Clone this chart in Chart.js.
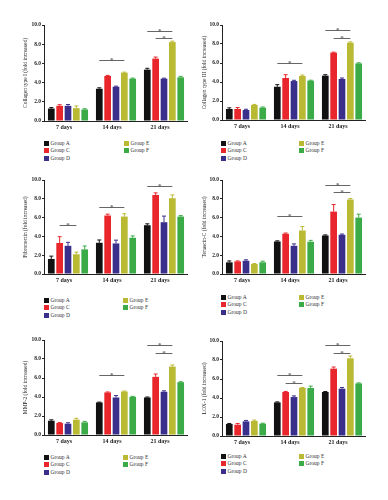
<!DOCTYPE html>
<html><head><meta charset="utf-8">
<script src="https://cdn.jsdelivr.net/npm/chart.js"></script>
<style>
body{margin:0;background:#fff;width:388px;height:500px;position:relative;overflow:hidden;font-family:"Liberation Serif",serif;}
canvas{position:absolute;}
.lg{position:absolute;font-size:5.5px;color:#333;line-height:7.6px;white-space:nowrap}
.lg i{display:inline-block;width:4.5px;height:5px;margin-right:2px;vertical-align:-1px}
</style></head><body>
<script>
const categories = ['7 days', '14 days', '21 days'];
const groups = ['Group A', 'Group C', 'Group D', 'Group E', 'Group F'];
const groupColors = ['#111111', '#e8262b', '#3b2f8c', '#b9b934', '#3bab48'];
const yTicks = [0, 2, 4, 6, 8, 10];

// means, one row per group (A, C, D, E, F), columns 7 / 14 / 21 days
const collagenI = [[1.30, 3.36, 5.35], [1.58, 4.69, 6.50], [1.58, 3.57, 4.41], [1.34, 5.03, 8.22], [1.20, 4.41, 4.55]];
const collagenIErr = [[0.10, 0.10, 0.14], [0.12, 0.06, 0.16], [0.14, 0.06, 0.05], [0.22, 0.06, 0.10], [0.08, 0.06, 0.10]];
const collagenISig = [[1, 0, 3, 6.33], [2, 0, 3, 9.40], [2, 1, 3, 8.64]];

const collagenIII = [[1.16, 3.50, 4.67], [1.16, 4.42, 7.09], [1.05, 4.10, 4.32], [1.58, 4.63, 8.14], [1.30, 4.14, 5.96]];
const collagenIIIErr = [[0.12, 0.22, 0.10], [0.15, 0.35, 0.05], [0.08, 0.08, 0.10], [0.06, 0.10, 0.08], [0.07, 0.05, 0.06]];
const collagenIIISig = [[1, 0, 3, 6.00], [2, 0, 3, 9.50], [2, 1, 3, 8.67]];

const fibronectin = [[1.60, 3.32, 5.19], [3.30, 6.22, 8.41], [3.00, 3.25, 5.51], [2.10, 6.11, 8.06], [2.62, 3.85, 6.11]];
const fibronectinErr = [[0.30, 0.30, 0.15], [0.67, 0.15, 0.22], [0.37, 0.35, 0.65], [0.22, 0.30, 0.35], [0.36, 0.20, 0.10]];
const fibronectinSig = [[0, 1, 3, 5.18], [1, 0, 3, 7.17], [2, 0, 3, 9.40]];

const tenascin = [[1.24, 3.46, 4.10], [1.34, 4.28, 6.64], [1.41, 3.00, 4.17], [1.06, 4.63, 7.92], [1.24, 3.43, 6.00]];
const tenascinErr = [[0.15, 0.07, 0.06], [0.05, 0.08, 0.75], [0.10, 0.20, 0.08], [0.05, 0.42, 0.10], [0.12, 0.15, 0.36]];
const tenascinSig = [[1, 0, 3, 6.22], [2, 0, 3, 9.47], [2, 1, 3, 8.76]];

const mmp2 = [[1.50, 3.43, 3.95], [1.26, 4.48, 6.12], [1.19, 3.95, 4.55], [1.61, 4.58, 7.20], [1.33, 4.02, 5.56]];
const mmp2Err = [[0.10, 0.03, 0.05], [0.05, 0.05, 0.30], [0.10, 0.20, 0.10], [0.15, 0.05, 0.17], [0.10, 0.05, 0.05]];
const mmp2Sig = [[1, 0, 3, 6.33], [2, 0, 3, 9.44], [2, 1, 3, 8.60]];

const lox1 = [[1.26, 3.54, 4.63], [1.19, 4.63, 7.09], [1.54, 4.10, 4.98], [1.58, 5.05, 8.18], [1.30, 5.05, 5.54]];
const lox1Err = [[0.06, 0.05, 0.05], [0.13, 0.06, 0.17], [0.10, 0.12, 0.13], [0.10, 0.06, 0.24], [0.05, 0.20, 0.05]];
const lox1Sig = [[1, 0, 3, 6.39], [1, 1, 3, 5.54], [2, 0, 3, 9.54], [2, 1, 3, 8.70]];

const panels = [
  {title: 'Collagen type I (fold increased)', means: collagenI, errs: collagenIErr, sigs: collagenISig,
   left: 21, yw: 23, w: 167, top: 25, h: 96, lgA: 44, lgE: 124, lgY: 143.3},
  {title: 'Collagen type III (fold increased)', means: collagenIII, errs: collagenIIIErr, sigs: collagenIIISig,
   left: 200, yw: 22, w: 166, top: 25, h: 95, lgA: 221, lgE: 299, lgY: 143.3},
  {title: 'Fibronectin (fold increased)', means: fibronectin, errs: fibronectinErr, sigs: fibronectinSig,
   left: 21, yw: 23, w: 167, top: 180, h: 94, lgA: 44, lgE: 123, lgY: 300.7},
  {title: 'Tenascin-C (fold increased)', means: tenascin, errs: tenascinErr, sigs: tenascinSig,
   left: 200, yw: 22, w: 166, top: 180, h: 94, lgA: 221, lgE: 299, lgY: 297.3},
  {title: 'MMP-2 (fold increased)', means: mmp2, errs: mmp2Err, sigs: mmp2Sig,
   left: 21, yw: 23, w: 167, top: 340, h: 95, lgA: 44, lgE: 123, lgY: 457.3},
  {title: 'LOX-1 (fold increased)', means: lox1, errs: lox1Err, sigs: lox1Sig,
   left: 200, yw: 22, w: 166, top: 341, h: 95, lgA: 221, lgE: 299, lgY: 456.7}
];

const PADTOP = 6, XH = 14;
const serif = '"Liberation Serif", "DejaVu Serif", serif';

// error bars + significance brackets
const extrasPlugin = {
  id: 'extras',
  afterDatasetsDraw(chart, args, opts) {
    const ctx = chart.ctx;
    const ys = chart.scales.y;
    ctx.save();
    chart.data.datasets.forEach((ds, i) => {
      const meta = chart.getDatasetMeta(i);
      meta.data.forEach((bar, j) => {
        const top = ys.getPixelForValue(ds.data[j] + opts.errs[i][j]);
        const half = bar.width * 0.3;
        ctx.strokeStyle = ds.backgroundColor;
        ctx.lineWidth = 1;
        ctx.beginPath();
        ctx.moveTo(bar.x, bar.y);
        ctx.lineTo(bar.x, top);
        ctx.moveTo(bar.x - half, top);
        ctx.lineTo(bar.x + half, top);
        ctx.stroke();
      });
    });
    opts.sigs.forEach(s => {
      const x1 = chart.getDatasetMeta(s[1]).data[s[0]].x;
      const x2 = chart.getDatasetMeta(s[2]).data[s[0]].x;
      const y = Math.round(ys.getPixelForValue(s[3])) + 0.5;
      ctx.strokeStyle = '#666';
      ctx.lineWidth = 1;
      ctx.beginPath();
      ctx.moveTo(x1, y);
      ctx.lineTo(x2, y);
      ctx.stroke();
      ctx.fillStyle = '#333';
      ctx.font = '7px ' + serif;
      ctx.textAlign = 'center';
      ctx.textBaseline = 'alphabetic';
      ctx.fillText('*', (x1 + x2) / 2, y + 1.5);
    });
    ctx.restore();
  }
};

panels.forEach(p => {
  const cv = document.createElement('canvas');
  cv.width = p.w;
  cv.height = PADTOP + p.h + XH;
  cv.style.left = p.left + 'px';
  cv.style.top = (p.top - PADTOP) + 'px';
  cv.style.width = p.w + 'px';
  cv.style.height = cv.height + 'px';
  document.body.appendChild(cv);

  new Chart(cv.getContext('2d'), {
    type: 'bar',
    data: {
      labels: categories,
      datasets: groups.map((g, i) => ({
        label: g,
        data: p.means[i],
        backgroundColor: groupColors[i],
        barPercentage: 0.8,
        categoryPercentage: 0.87
      }))
    },
    options: {
      responsive: false,
      animation: false,
      devicePixelRatio: 1,
      layout: {padding: {top: PADTOP, right: 0, bottom: 0, left: 0}},
      plugins: {
        legend: {display: false},
        tooltip: {enabled: false},
        extras: {errs: p.errs, sigs: p.sigs}
      },
      scales: {
        x: {
          grid: {display: false, drawTicks: false},
          border: {display: true, color: '#222', width: 1},
          ticks: {color: '#222', padding: 3, labelOffset: -4, font: {family: serif, size: 6, weight: 'bold'}},
          afterFit(s) { s.height = XH; }
        },
        y: {
          min: 0, max: 10,
          afterBuildTicks(s) { s.ticks = yTicks.map(v => ({value: v})); },
          grid: {drawOnChartArea: false, drawTicks: true, tickLength: 2, color: '#222'},
          border: {display: true, color: '#222', width: 1},
          ticks: {color: '#222', padding: 1, font: {family: serif, size: 5.5, weight: 'bold'},
                  callback: v => v.toFixed(1)},
          title: {display: true, text: p.title, color: '#222', padding: {top: 1, bottom: 0},
                  font: {family: serif, size: 5.5}},
          afterFit(s) { s.width = p.yw; }
        }
      }
    },
    plugins: [extrasPlugin]
  });

  // legend: A, C, D in first column, E, F in second
  const cols = [[0, 1, 2, p.lgA], [3, 4, p.lgE]];
  cols.forEach(c => {
    const d = document.createElement('div');
    d.className = 'lg';
    d.style.left = c[c.length - 1] + 'px';
    d.style.top = (p.lgY - 3.8) + 'px';
    d.innerHTML = c.slice(0, -1).map(i =>
      '<div><i style="background:' + groupColors[i] + '"></i>' + groups[i] + '</div>').join('');
    document.body.appendChild(d);
  });
});
</script>
</body></html>
